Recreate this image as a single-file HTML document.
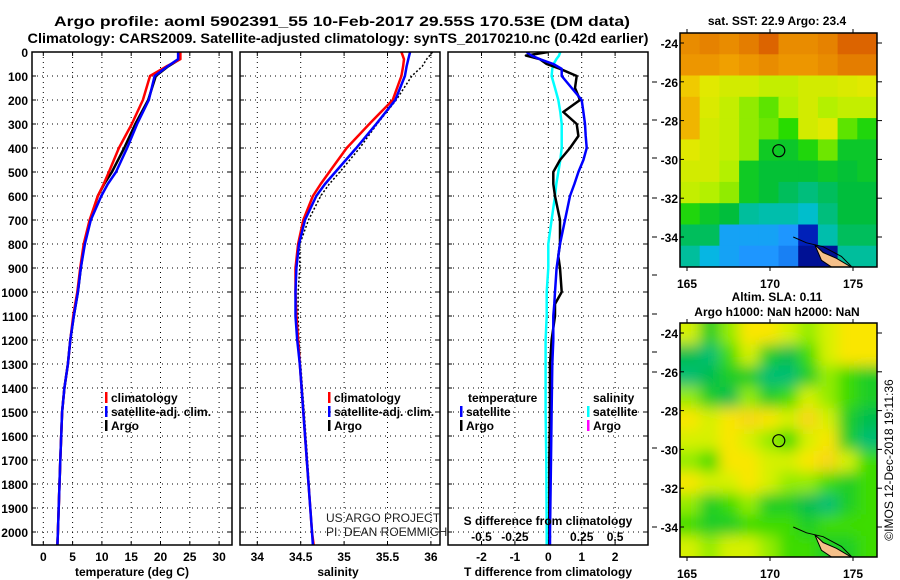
<!DOCTYPE html>
<html><head><meta charset="utf-8"><style>
html,body{margin:0;padding:0;background:#fff;}
svg{display:block;font-family:"Liberation Sans",Arial,sans-serif;}
.b{font-weight:bold;font-size:12px;}
</style></head><body>
<svg id="fig" width="900" height="580" viewBox="0 0 900 580" xmlns="http://www.w3.org/2000/svg">
<defs>
<clipPath id="cp1"><rect x="32" y="52" width="200" height="493"/></clipPath>
<clipPath id="cp2"><rect x="240" y="52" width="200" height="493"/></clipPath>
<clipPath id="cp3"><rect x="448" y="52" width="200" height="493"/></clipPath>
<clipPath id="cm1"><rect x="680" y="33" width="197" height="234"/></clipPath>
<clipPath id="cm2"><rect x="680" y="323" width="197" height="234"/></clipPath>
<filter id="blur" x="-5%" y="-5%" width="110%" height="110%"><feGaussianBlur stdDeviation="7"/></filter>
</defs>
<text x="342" y="26" text-anchor="middle" font-size="14" font-weight="bold" textLength="576" lengthAdjust="spacingAndGlyphs">Argo profile: aoml 5902391_55 10-Feb-2017 29.55S 170.53E (DM data)</text>
<text x="338" y="43" text-anchor="middle" font-size="14" font-weight="bold" textLength="621" lengthAdjust="spacingAndGlyphs">Climatology: CARS2009. Satellite-adjusted climatology: synTS_20170210.nc (0.42d earlier)</text>
<g id="g"></g>
</svg>
<script>
// ---- data ----
const depth = [0,30,60,100,200,300,400,500,550,600,700,800,900,1000,1100,1200,1300,1400,1500,1700,2000,2055];
const tempArgo = [23.3,23.3,21.3,19.2,17.9,15.7,13.8,11.7,10.4,9.3,8,7,6.4,5.9,5.2,4.6,4.2,3.6,3.2,2.9,2.5,2.4];
const tempClim = [23.4,23.4,21,18.2,17,15.1,12.9,11.2,10.3,9.3,7.9,6.9,6.3,5.8,5.1,4.6,4.2,3.6,3.2,2.9,2.5,2.4];
const tempSat = [23,23,21.2,19,18,16,14.3,12.4,11,9.9,8.1,7.1,6.4,5.9,5.2,4.6,4.2,3.6,3.2,2.9,2.5,2.4];
const salClim = [35.66,35.69,35.68,35.66,35.56,35.29,35.03,34.83,34.73,34.64,34.53,34.47,34.44,34.44,34.45,34.47,34.49,34.51,34.53,34.57,34.63,34.65];
const salSat = [35.76,35.74,35.72,35.70,35.59,35.37,35.14,34.9,34.78,34.68,34.55,34.48,34.45,34.44,34.44,34.46,34.49,34.51,34.53,34.57,34.63,34.64];
const salArgo = [36.02,35.95,35.9,35.78,35.6,35.38,35.18,34.95,34.83,34.73,34.59,34.49,34.49,34.47,34.47,34.48,34.5,34.52,34.54,34.58,34.63,34.64];
const dDepth = [0,15,30,50,70,100,150,200,250,300,350,400,450,500,550,600,700,800,850,900,1000,1050,1100,1200,1300,1500,1700,2000,2055];
const dTArgo = [0,-0.67,-0.25,-0.05,0.35,0.85,0.8,0.95,0.45,0.85,0.9,0.65,0.35,0.15,0.15,0.2,0.35,0.35,0.3,0.35,0.4,0.2,0.2,0.1,0.05,0.05,0.03,0.03,0.03];
const dTSat = [-0.65,-0.5,-0.25,0.15,0.4,0.4,0.7,1.0,1.05,1.1,1.12,1.15,1.05,0.9,0.78,0.65,0.5,0.35,0.3,0.25,0.2,0.18,0.15,0.15,0.12,0.1,0.08,0.05,0.05];
const dSSat = [0.09,0.08,0.06,0.04,0.03,0.025,0.05,0.075,0.09,0.1,0.1,0.1,0.09,0.075,0.06,0.05,0.025,0,0,0,-0.012,-0.012,-0.012,-0.02,-0.02,-0.02,-0.015,-0.012,-0.012];
const depthTicks = [0,100,200,300,400,500,600,700,800,900,1000,1100,1200,1300,1400,1500,1600,1700,1800,1900,2000];
const tTicks = [0,5,10,15,20,25,30];
const sTicks = [34,34.5,35,35.5,36];
const dtTicks = [-2,-1,0,1,2];
const dsTicks = [-0.5,-0.25,0,0.25,0.5];
const dsTickLabels = ["-0.5","-0.25","0","0.25","0.5"];
const latTicks = [-24,-26,-28,-30,-32,-34];
const lonTicks = [165,170,175];
const sstGrid = [
[.82,.84,.82,.85,.9,.82,.82,.84,.9,.9],
[.8,.8,.78,.8,.82,.8,.8,.82,.85,.85],
[.72,.66,.64,.64,.62,.62,.64,.64,.65,.66],
[.75,.65,.62,.58,.55,.6,.64,.6,.62,.62],
[.75,.64,.62,.58,.56,.52,.64,.66,.55,.5],
[.66,.64,.62,.58,.46,.45,.5,.56,.45,.45],
[.64,.64,.6,.46,.43,.43,.43,.45,.43,.45],
[.62,.6,.58,.46,.43,.4,.38,.4,.42,.42],
[.5,.45,.42,.36,.35,.35,.33,.38,.42,.42],
[.4,.4,.25,.25,.25,.22,.1,.35,.4,.4],
[.36,.3,.25,.22,.22,.2,.05,.05,.36,.36]];
const slaGrid = [
[.6,.45,.55,.65,.65,.6,.55,.6,.65,.65],
[.4,.35,.5,.6,.45,.4,.5,.6,.65,.65],
[.35,.4,.45,.45,.35,.35,.45,.55,.5,.45],
[.55,.45,.4,.55,.45,.5,.6,.55,.5,.45],
[.65,.6,.65,.7,.65,.6,.7,.6,.45,.4],
[.6,.6,.65,.6,.55,.5,.6,.65,.45,.35],
[.55,.5,.65,.65,.6,.6,.65,.7,.6,.5],
[.65,.6,.6,.65,.6,.55,.55,.5,.45,.5],
[.55,.45,.5,.55,.45,.45,.4,.35,.45,.5],
[.5,.45,.45,.5,.5,.5,.45,.5,.5,.5],
[.6,.55,.6,.6,.55,.5,.5,.45,.45,.5]];
const argoLon = 170.53, argoLat = -29.55;

// ---- scales ----
const yD = d => 52 + d*0.24;
const xT = t => 43.3 + t*5.86;
const xS = s => 257.3 + (s-34)*86.8;
const xdT = v => 548.3 + v*33.4;
const xdS = v => 548.3 + v*133.6;
const xLon = l => 687 + (l-165)*16.6;
const yLat1 = la => 43 + (-24-la)*19.4;
const yLat2 = la => 333 + (-24-la)*19.4;

const NS="http://www.w3.org/2000/svg";
const G=document.getElementById('g');
function mk(tag,attrs,parent){const e=document.createElementNS(NS,tag);for(const k in attrs)e.setAttribute(k,attrs[k]);(parent||G).appendChild(e);return e;}
function txt(x,y,s,attrs,parent){const e=mk('text',Object.assign({x:x,y:y},attrs||{}),parent);e.textContent=s;return e;}

const panels=[{x:32,cp:'cp1',n:'temperature-panel'},{x:240,cp:'cp2',n:'salinity-panel'},{x:448,cp:'cp3',n:'difference-panel'}];
panels.forEach(p=>{
  const grp=mk('g',{});
  
  
  depthTicks.slice(1).forEach(d=>{
    const l=mk('line',{x1:p.x,x2:p.x+200,y1:yD(d),y2:yD(d),stroke:'#000','stroke-width':1,'stroke-dasharray':'1,4'},grp);
    
    
    mk('line',{x1:p.x,x2:p.x+4,y1:yD(d),y2:yD(d),stroke:'#000'},grp);
    mk('line',{x1:p.x+196,x2:p.x+200,y1:yD(d),y2:yD(d),stroke:'#000'},grp);
  });
  p.g=grp;
});
function vgrid(xs,p){xs.forEach(x=>{
  const l=mk('line',{x1:x,x2:x,y1:52,y2:545,stroke:'#000','stroke-dasharray':'1,4'},p.g);
  
  
  mk('line',{x1:x,x2:x,y1:541,y2:545,stroke:'#000'},p.g);mk('line',{x1:x,x2:x,y1:52,y2:56,stroke:'#000'},p.g);
});}
vgrid(tTicks.map(xT),panels[0]);
vgrid(sTicks.map(xS),panels[1]);
vgrid(dtTicks.map(xdT),panels[2]);

depthTicks.forEach(d=>{
  const t=txt(28,yD(d)+5,String(d),{'text-anchor':'end',class:'b'});
  
  
});
tTicks.forEach(v=>{const t=txt(xT(v),561,String(v),{'text-anchor':'middle',class:'b'});
  
  });
sTicks.forEach(v=>{const t=txt(xS(v),561,String(v),{'text-anchor':'middle',class:'b'});
  
  });
dtTicks.forEach(v=>{const t=txt(xdT(v),561,String(v),{'text-anchor':'middle',class:'b'});
  
  });
dsTicks.forEach((v,i)=>{const t=txt(xdS(v),541,dsTickLabels[i],{'text-anchor':'middle',class:'b'});
  
  });

function line(xs,ds,xf,color,w,clip,name,dash){
  const pts=xs.map((v,i)=>xf(v).toFixed(1)+','+yD(ds[i]).toFixed(1)).join(' ');
  const a={points:pts,fill:'none',stroke:color,'stroke-width':w,'clip-path':'url(#'+clip+')','stroke-linejoin':'round'};
  if(dash)a['stroke-dasharray']=dash;
  const e=mk('polyline',a);
  
  
  return e;
}
line(tempArgo,depth,xT,'#000',2.5,'cp1','temperature-argo-line');
line(tempClim,depth,xT,'#ff0000',2.5,'cp1','temperature-climatology-line');
line(tempSat,depth,xT,'#0000ff',2.5,'cp1','temperature-satellite-line');
line(salArgo,depth,xS,'#000',1.5,'cp2','salinity-argo-line','2,2');
line(salClim,depth,xS,'#ff0000',2.5,'cp2','salinity-climatology-line');
line(salSat,depth,xS,'#0000ff',2.5,'cp2','salinity-satellite-line');
line(dSSat,dDepth,xdS,'#00ffff',2.5,'cp3','s-difference-satellite-line');
line(dTArgo,dDepth,xdT,'#000',2.5,'cp3','t-difference-argo-line');
line(dTSat,dDepth,xdT,'#0000ff',2.5,'cp3','t-difference-satellite-line');

panels.forEach(p=>{
  const r=mk('rect',{x:p.x,y:52,width:200,height:493,fill:'none',stroke:'#000','stroke-width':1.5});
  
  
});
[82,120,158,198,237,275,314,352,372,448,527].forEach(y=>mk('line',{x1:652,x2:657,y1:y,y2:y,stroke:'#000'}));

[[132,'temperature (deg C)','temperature-axis-title'],[338,'salinity','salinity-axis-title'],[548,'T difference from climatology','t-difference-axis-title']].forEach(a=>{
  const t=txt(a[0],576,a[1],{'text-anchor':'middle',class:'b'});
  
  
});
const sdt=txt(548,525,'S difference from climatology',{'text-anchor':'middle',class:'b'});



function legend(x,y,color,label,name){
  const g=mk('g',{});
  
  
  mk('rect',{x:x,y:y-10,width:2.5,height:11,fill:color},g);
  txt(x+6,y,label,{class:'b'},g);
}
legend(105,402,'#ff0000','climatology','legend-climatology');
legend(105,416,'#0000ff','satellite-adj. clim.','legend-satellite-adj');
legend(105,430,'#000','Argo','legend-argo');
legend(328,402,'#ff0000','climatology','legend-salinity-climatology');
legend(328,416,'#0000ff','satellite-adj. clim.','legend-salinity-satellite');
legend(328,430,'#000','Argo','legend-salinity-argo');
const lt=txt(468,402,'temperature',{class:'b'});
legend(460,416,'#0000ff','satellite','legend-t-satellite');
legend(460,430,'#000','Argo','legend-t-argo');
const ls=txt(593,402,'salinity',{class:'b'});
legend(587,416,'#00ffff','satellite','legend-s-satellite');
legend(587,430,'#ff00ff','Argo','legend-s-argo');
const c1=txt(326,522,'US ARGO PROJECT',{'font-size':12,'font-weight':'normal',fill:'#222'});

const c2=txt(326,536,'PI: DEAN ROEMMICH',{'font-size':12,'font-weight':'normal',fill:'#222'});


// ---- maps ----
function sstColor(v){
  const stops=[[0,[0,0,110]],[0.12,[0,40,200]],[0.22,[30,150,255]],[0.32,[0,190,220]],[0.42,[0,190,60]],[0.52,[40,220,0]],[0.6,[180,240,0]],[0.68,[240,230,0]],[0.78,[240,160,0]],[0.9,[220,100,0]],[1,[180,60,0]]];
  for(let i=1;i<stops.length;i++){if(v<=stops[i][0]){const a=stops[i-1],b=stops[i],f=(v-a[0])/(b[0]-a[0]);
    return 'rgb('+a[1].map((c,k)=>Math.round(c+(b[1][k]-c)*f)).join(',')+')';}}
  return 'rgb(180,60,0)';
}
function slaColor(v){
  const stops=[[0.3,[0,190,150]],[0.4,[0,190,80]],[0.5,[60,220,0]],[0.58,[200,245,0]],[0.65,[250,230,0]],[0.75,[245,200,40]]];
  if(v<=0.3)return 'rgb(0,190,150)';
  for(let i=1;i<stops.length;i++){if(v<=stops[i][0]){const a=stops[i-1],b=stops[i],f=(v-a[0])/(b[0]-a[0]);
    return 'rgb('+a[1].map((c,k)=>Math.round(c+(b[1][k]-c)*f)).join(',')+')';}}
  return 'rgb(245,200,40)';
}
function drawMap(grid,y0,h,clip,cf,blur,name){
  const g=mk('g',{'clip-path':'url(#'+clip+')'});
  
  
  const inner=mk('g',blur?{filter:'url(#blur)'}:{},g);
  const rows=grid.length,cols=grid[0].length,cw=197/cols,ch=h/rows;
  mk('rect',{x:660,y:y0-20,width:240,height:h+40,fill:cf(grid[rows-1][0])},inner);
  grid.forEach((row,r)=>row.forEach((v,c)=>{
    const cell=mk('rect',{x:(680+c*cw-(blur&&c==0?20:0)).toFixed(1),y:(y0+r*ch-(blur&&r==0?20:0)).toFixed(1),width:(cw+0.6+(blur&&(c==0||c==cols-1)?20:0)).toFixed(1),height:(ch+0.6+(blur&&(r==0||r==rows-1)?20:0)).toFixed(1),fill:cf(v)},inner);
    
    
  }));
  return g;
}
const m1=drawMap(sstGrid,33,234,'cm1',sstColor,false,'sst-map');
const m2=drawMap(slaGrid,323,234,'cm2',slaColor,true,'sla-map');
function coast(g,yl){
  const land=[[172.7,-34.4],[173.2,-34.8],[174,-35.1],[174.6,-35.4],[175,-35.6],[173.8,-35.6],[173.1,-35.2]];
  mk('polygon',{points:land.map(p=>xLon(p[0])+','+yl(p[1])).join(' '),fill:'#f5c08a',stroke:'#000','stroke-width':1},g);
  const outl=[[171.4,-34.0],[172.2,-34.3],[173.2,-34.5],[174.3,-35],[175,-35.6]];
  mk('polyline',{points:outl.map(p=>xLon(p[0])+','+yl(p[1])).join(' '),fill:'none',stroke:'#000','stroke-width':1},g);
}
coast(m1,yLat1);coast(m2,yLat2);
[[m1,yLat1,'sst-argo-location'],[m2,yLat2,'sla-argo-location']].forEach(a=>{
  const c=mk('circle',{cx:xLon(argoLon),cy:a[1](argoLat),r:6,fill:'none',stroke:'#000','stroke-width':1.2},a[0]);
  
  
});
[[33,234,yLat1,288],[323,234,yLat2,578]].forEach(m=>{
  const f=mk('rect',{x:680,y:m[0],width:197,height:m[1],fill:'none',stroke:'#000','stroke-width':1.5});
  
  
  latTicks.forEach(la=>{
    const y=m[2](la);
    mk('line',{x1:877,x2:882,y1:y,y2:y,stroke:'#000'});
    mk('line',{x1:680,x2:684,y1:y,y2:y,stroke:'#000'});
    const t=txt(678,y+5,String(la),{'text-anchor':'end',class:'b'});
    
    
  });
  lonTicks.forEach(lo=>{
    mk('line',{x1:xLon(lo),x2:xLon(lo),y1:m[0]+m[1],y2:m[0]+m[1]+4,stroke:'#000'});
    mk('line',{x1:xLon(lo),x2:xLon(lo),y1:m[0]-4,y2:m[0],stroke:'#000'});
    const t=txt(xLon(lo),m[3],String(lo),{'text-anchor':'middle',class:'b'});
    
    
  });
});
[[777,25,'sat. SST: 22.9 Argo: 23.4','sst-map-title'],[777,301,'Altim. SLA: 0.11','sla-map-title'],[777,316,'Argo h1000: NaN h2000: NaN','sla-map-subtitle']].forEach(a=>{
  const t=txt(a[0],a[1],a[2],{'text-anchor':'middle',class:'b'});
  
  
});
const cr=txt(0,0,'©IMOS 12-Dec-2018 19:11:36',{'font-size':12,'text-anchor':'middle',transform:'translate(893,460) rotate(-90)'});


</script>
</body></html>
